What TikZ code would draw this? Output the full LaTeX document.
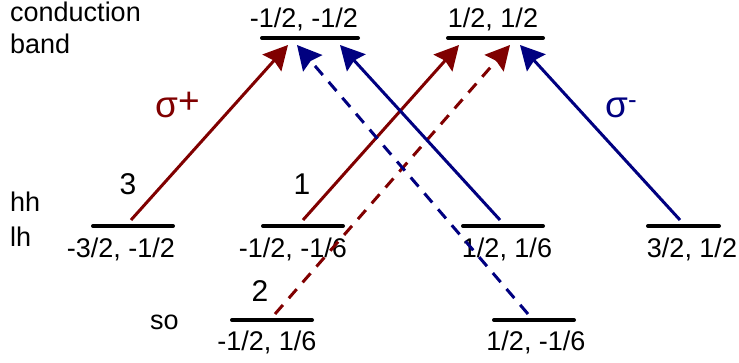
\documentclass[tikz,border=0pt]{standalone}
\usepackage{fontspec}
\setmainfont{Liberation Sans}
\usetikzlibrary{arrows.meta}
\definecolor{darkred}{RGB}{128,0,0}
\definecolor{darkblue}{RGB}{0,0,128}
\tikzset{
  level/.style={line width=4pt, line cap=round},
  trans/.style={line width=3pt, -{Stealth[length=24pt,width=25pt,inset=3pt]}},
  weak/.style={trans, dash pattern=on 12pt off 9pt},
  lbl/.style={inner sep=0pt, font=\fontsize{27}{32}\selectfont},
  num/.style={inner sep=0pt, font=\fontsize{30}{34}\selectfont},
  pol/.style={inner sep=0pt, font=\fontsize{37}{40}\selectfont},
}
\begin{document}
\begin{tikzpicture}[x=1pt,y=-1pt]
	\useasboundingbox (0,0) rectangle (739,363);
	\foreach \a/\b/\y in {262/358/38, 448/543/38, 93/173/226, 263/343/226, 463/543/226, 648/719/226, 232/312/320, 494/574/320}
		\draw[level] (\a,\y)--(\b,\y);
	
	\node[lbl, anchor=base west] (cond) at (10,22) {conduction};
	\node[lbl, anchor=base west] (band) at (10,54) {band};
	\node[lbl, anchor=base west] (hh) at (10,212) {hh};
	\node[lbl, anchor=base west] (lh) at (10,247) {lh};
	\node[lbl, anchor=base west] (so) at (150,330) {so};
	
	\node[lbl, anchor=base] (cbm) at (304,28) {-1/2, -1/2};
	\node[lbl, anchor=base] (cbp) at (493,28) {1/2, 1/2};
	\node[lbl, anchor=base] (hhm) at (121,258) {-3/2, -1/2};
	\node[lbl, anchor=base] (lhm) at (293,258) {-1/2, -1/6};
	\node[lbl, anchor=base] (lhp) at (507,258) {1/2, 1/6};
	\node[lbl, anchor=base] (hhp) at (692,258) {3/2, 1/2};
	\node[lbl, anchor=base] (som) at (267,351) {-1/2, 1/6};
	\node[lbl, anchor=base] (sop) at (536,351) {1/2, -1/6};
	
	\coordinate (r3a) at (131,220); \coordinate (r3b) at (288,45);
	\coordinate (r1a) at (303,220); \coordinate (r1b) at (459,45);
	\coordinate (r2a) at (275,314); \coordinate (r2b) at (510,45);
	\coordinate (b1a) at (500,220); \coordinate (b1b) at (340,45);
	\coordinate (b2a) at (528,314); \coordinate (b2b) at (297,45);
	\coordinate (b3a) at (680,220); \coordinate (b3b) at (520,45);
	
	\draw[trans, darkred] (r3a) -- (r3b);
	\draw[trans, darkred] (r1a) -- (r1b);
	\draw[weak, darkred] (r2a) -- (r2b);
	\draw[trans, darkblue] (b1a) -- (b1b);
	\draw[weak, darkblue] (b2a) -- (b2b);
	\draw[trans, darkblue] (b3a) -- (b3b);
	
	\node[num, anchor=base] (n3) at (128,195) {3};
	\node[num, anchor=base] (n1) at (302,195) {1};
	\node[num, anchor=base] (n2) at (260,302) {2};
	\node[pol, darkred, anchor=base west] (sp) at (155,118) {σ\raisebox{4pt}{+}};
	\node[pol, darkblue, anchor=base west] (sm) at (605,118) {σ\textsuperscript{-}};
\end{tikzpicture}
\end{document}
